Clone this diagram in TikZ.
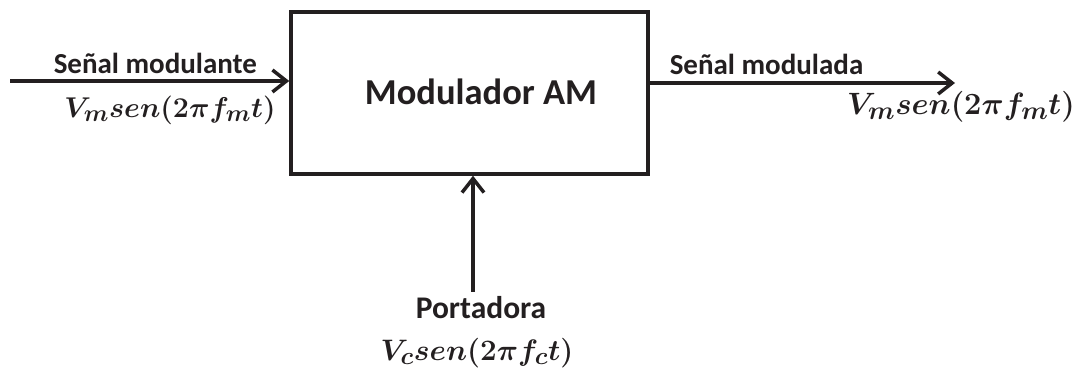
\documentclass[tikz,border=0pt]{standalone}
\usepackage{graphicx}
\usepackage{fontspec}
\setmainfont{Carlito}
\usetikzlibrary{arrows.meta}
\definecolor{ink}{HTML}{231F20}
\newcommand{\bigmath}[2][1.15]{\scalebox{#1}{$#2$}}
\begin{document}
\begin{tikzpicture}[x=1pt,y=-1pt, line width=3.5pt,
  lbl/.style={font=\fontsize{29}{34}\selectfont\bfseries, inner sep=0, text=ink},
  ttl/.style={font=\fontsize{36.5}{42}\selectfont\bfseries, inner sep=0, text=ink},
  mth/.style={font=\fontsize{24.88}{30}\selectfont\boldmath, inner sep=0, text=ink},
  arr/.style={draw=ink, -{Straight Barb[length=14pt,width=22pt]}},
  blk/.style={draw=ink, inner sep=0, minimum width=357pt, minimum height=162pt}]
\useasboundingbox (0,0) rectangle (1085,371);
\node[blk] (box) at (469.5,93) {};
\node[ttl, anchor=base] (title) at (481,105) {Modulador AM};
\coordinate (inL) at (10,81);
\coordinate (outR) at (955,83);
\coordinate (bot) at (473,292);
\draw[arr] (inL) -- (inL -| box.west);
\draw[arr] (outR -| box.east) -- (outR);
\draw[arr] (bot) -- (bot |- box.south);
\node[lbl, anchor=base west] (inlbl) at (52,74) {Señal modulante};
\node[mth] (inmath) at (170,110) {\bigmath{V_m sen(2\pi f_m t)}};
\node[lbl, anchor=base west] (outlbl) at (668,75) {Señal modulada};
\node[mth] (outmath) at (961,107) {\bigmath[1.24]{V_m sen(2\pi f_m t)}};
\node[lbl, font=\fontsize{31.5}{36}\selectfont\bfseries] (carlbl) at (481,308) {Portadora};
\node[mth] (carmath) at (477,353) {\bigmath[1.19]{V_c sen(2\pi f_c t)}};
\end{tikzpicture}
\end{document}
